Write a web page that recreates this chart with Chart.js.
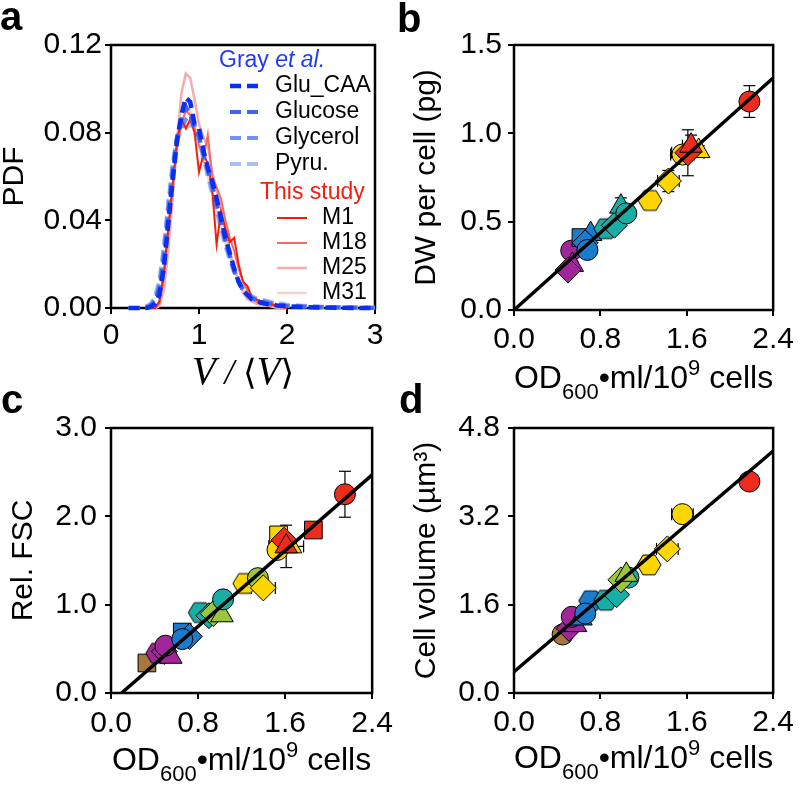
<!DOCTYPE html>
<html><head><meta charset="utf-8">
<script src="https://cdn.jsdelivr.net/npm/chart.js@4.4.1/dist/chart.umd.min.js"></script>
<style>
html,body{margin:0;padding:0;background:#fff;}
body{width:800px;height:785px;position:relative;overflow:hidden;}
canvas{position:absolute;}
.lbl{position:absolute;font-family:"Liberation Sans",Arial,sans-serif;font-weight:bold;font-size:40px;line-height:40px;color:#000;}
</style></head>
<body>
<canvas id="cA" width="400" height="395" style="left:0;top:0"></canvas>
<canvas id="cC" width="400" height="390" style="left:0;top:395px"></canvas>
<canvas id="cD" width="400" height="390" style="left:400px;top:395px"></canvas>
<canvas id="cB" width="400" height="410" style="left:400px;top:0"></canvas>
<div class="lbl" style="left:0;top:-4px">a</div>
<div class="lbl" style="left:397px;top:-2px">b</div>
<div class="lbl" style="left:1px;top:379px">c</div>
<div class="lbl" style="left:399px;top:379px">d</div>
<script>
// ================= DATA =================
// Panel a: PDF of V/<V>
const vGrid = [0.20,0.25,0.30,0.35,0.40,0.45,0.50,0.55,0.60,0.65,0.70,0.75,0.80,0.85,0.90,0.95,1.00,1.05,1.10,1.15,1.20,1.25,1.30,1.35,1.40,1.45,1.50,1.55,1.60,1.65,1.70,1.75,1.80,1.85,1.90,1.95,2.00,2.20,2.40,2.60,2.80,3.00];
const gluCAA   = [0,0,0,0,0,0.0005,0.002,0.006,0.018,0.038,0.058,0.076,0.088,0.096,0.094,0.084,0.082,0.072,0.064,0.058,0.050,0.041,0.032,0.025,0.018,0.012,0.008,0.006,0.004,0.0035,0.0025,0.002,0.0015,0.0015,0.001,0.001,0.0008,0.0004,0.0002,0.0001,0,0];
const glucose  = [0,0,0,0,0,0.001,0.003,0.009,0.022,0.042,0.062,0.078,0.086,0.092,0.088,0.082,0.078,0.070,0.063,0.056,0.048,0.040,0.031,0.024,0.017,0.012,0.008,0.006,0.0045,0.0035,0.003,0.0025,0.002,0.0015,0.0012,0.001,0.0008,0.0005,0.0003,0.0002,0.0001,0];
const glycerol = [0,0,0,0,0.0005,0.0015,0.004,0.011,0.026,0.046,0.064,0.078,0.082,0.086,0.088,0.084,0.078,0.070,0.062,0.054,0.046,0.038,0.030,0.023,0.017,0.012,0.009,0.007,0.005,0.004,0.0035,0.003,0.0025,0.002,0.0015,0.0015,0.001,0.0008,0.0005,0.0003,0.0002,0.0001];
const pyru     = [0,0,0,0,0.0008,0.002,0.005,0.013,0.028,0.048,0.066,0.078,0.080,0.082,0.084,0.080,0.076,0.068,0.060,0.052,0.044,0.036,0.028,0.022,0.016,0.012,0.009,0.007,0.0055,0.0045,0.004,0.0035,0.003,0.0025,0.002,0.002,0.0015,0.001,0.0006,0.0004,0.0002,0.0001];
const m1  = [null,null,null,null,0,0,0,0.003,0.016,0.036,0.056,0.076,0.086,0.082,0.086,0.080,0.062,0.070,0.066,0.054,0.029,0.044,0.036,0.030,0.032,0.020,0.012,0.010,0.005,0.004,0.003,0.002,0.002,0.0015,0.001,0.0005,0,null,null,null,null,null];
const m18 = [null,null,null,null,0,0,0,0.002,0.014,0.034,0.055,0.074,0.084,0.090,0.088,0.082,0.074,0.068,0.079,0.060,0.055,0.050,0.040,0.032,0.026,0.018,0.012,0.008,0.005,0.003,0.002,0.0015,0.001,0.001,0.0005,0,0,null,null,null,null,null];
const m25 = [null,null,null,null,0,0,0,0.001,0.008,0.026,0.050,0.076,0.098,0.107,0.105,0.095,0.084,0.078,0.074,0.062,0.054,0.046,0.036,0.026,0.018,0.012,0.007,0.004,0.003,0.002,0.0015,0.001,0.001,0.0005,0,0,0,null,null,null,null,null];
const m31 = [null,null,null,null,0,0,0,0.001,0.010,0.030,0.052,0.072,0.084,0.090,0.090,0.084,0.076,0.068,0.060,0.052,0.045,0.038,0.030,0.024,0.018,0.013,0.009,0.006,0.004,0.003,0.002,0.0015,0.001,0.0005,0.0003,0,0,null,null,null,null,null];
const aXTicks = [0,1,2,3];
const aYTicks = [0,0.04,0.08,0.12];

// Panel b: DW per cell vs OD600*ml/1e9 cells
const bX    = [0.53,0.54,0.50,0.62,0.71,0.66,0.68,0.85,0.93,0.99,1.04,1.26,1.43,1.56,1.71,1.61,1.64,2.18];
const bY    = [0.336,0.255,0.226,0.41,0.43,0.38,0.34,0.46,0.48,0.585,0.547,0.62,0.73,0.88,0.90,0.89,0.93,1.18];
const bXErr = [0.02,0.02,0.02,0.02,0.02,0.02,0.02,0.03,0.03,0.03,0.02,0.02,0.10,0.11,0.03,0.15,0.08,0.04];
const bYErr = [0.02,0.02,0.02,0.02,0.02,0.02,0.02,0.03,0.03,0.05,0.02,0.02,0.06,0.04,0.03,0.13,0.06,0.09];
const bGroup = ['purple','purple','purple','blue','blue','blue','blue','teal','teal','teal','teal','yellow','yellow','yellow','yellow','red','red','red'];
const bShape = ['circle','triangle','rectRot','rect','triangle','rectRot','circle','hex','rectRot','triangle','circle','hex','rectRot','circle','triangle','rectRot','triangle','circle'];
const bFitX = [0,2.4], bFitY = [0,1.313];
const bXTicks = [0,0.8,1.6,2.4], bYTicks = [0,0.5,1.0,1.5];

// Panel c: Rel. FSC
const cX    = [0.33,0.43,0.49,0.55,0.50,0.655,0.72,0.655,0.82,0.90,0.94,1.02,1.03,1.23,1.35,1.40,1.54,1.53,1.65,1.59,1.61,1.86,2.15];
const cY    = [0.34,0.45,0.47,0.41,0.535,0.69,0.64,0.61,0.91,0.875,0.90,0.88,1.06,1.24,1.30,1.19,1.79,1.62,1.66,1.73,1.66,1.845,2.25];
const cXErr = [0.02,0.02,0.02,0.02,0.02,0.02,0.03,0.02,0.03,0.03,0.03,0.03,0.03,0.03,0.03,0.11,0.05,0.06,0.05,0.05,0.16,0.03,0.05];
const cYErr = [0.03,0.03,0.03,0.03,0.03,0.03,0.03,0.03,0.03,0.03,0.03,0.03,0.03,0.03,0.03,0.04,0.06,0.06,0.05,0.05,0.24,0.03,0.26];
const cGroup = ['brown','purple','purple','purple','purple','blue','blue','blue','teal','teal','green','green','teal','yellow','green','yellow','yellow','yellow','yellow','red','red','red','red'];
const cShape = ['rect','hex','rectRot','triangle','circle','rect','rectRot','circle','hex','rectRot','rectRot','triangle','circle','hex','circle','rectRot','rect','circle','triangle','rectRot','triangle','rect','circle'];
const cFitX = [0.097,2.4], cFitY = [0,2.47];
const cXTicks = [0,0.8,1.6,2.4], cYTicks = [0,1.0,2.0,3.0];

// Panel d: Cell volume
const dX    = [0.45,0.51,0.57,0.535,0.62,0.71,0.66,0.85,0.95,1.06,0.99,1.04,1.25,1.42,1.56,2.18];
const dY    = [1.06,1.17,1.23,1.38,1.35,1.67,1.44,1.68,1.78,2.09,2.05,2.14,2.32,2.61,3.24,3.83];
const dXErr = [0.02,0.02,0.02,0.02,0.02,0.03,0.02,0.03,0.03,0.04,0.03,0.05,0.03,0.10,0.10,0.08];
const dYErr = [0.03,0.03,0.03,0.03,0.03,0.05,0.03,0.05,0.05,0.05,0.05,0.10,0.05,0.05,0.05,0.06];
const dGroup = ['brown','purple','purple','purple','blue','blue','blue','teal','teal','teal','green','green','yellow','yellow','yellow','red'];
const dShape = ['circle','rectRot','triangle','circle','triangle','hex','circle','hex','rectRot','circle','rectRot','triangle','hex','rectRot','circle','circle'];
const dFitX = [0,2.4], dFitY = [0.386,4.383];
const dXTicks = [0,0.8,1.6,2.4], dYTicks = [0,1.6,3.2,4.8];

// ================= STYLE =================
const F = "'Liberation Sans', Arial, Helvetica, sans-serif";
Chart.defaults.font.family = F;
Chart.defaults.color = '#000';
const palette = {purple:'#a0269a', blue:'#1c7ccc', teal:'#18aea6', green:'#9bc53d', yellow:'#ffd500', red:'#ee2b1c', brown:'#a6773e'};
const radiusOf = {circle:10.5, triangle:13, rect:12.5, rectRot:13, hex:12};
const hexCache = {};
function hexImg(color){
  if(hexCache[color]) return hexCache[color];
  const s=28, c=document.createElement('canvas'); c.width=s; c.height=s;
  const g=c.getContext('2d'); const r=12;
  g.beginPath();
  for(let k=0;k<6;k++){const a=Math.PI/3*k; const px=s/2+r*Math.cos(a), py=s/2+r*Math.sin(a)*0.95; k?g.lineTo(px,py):g.moveTo(px,py);}
  g.closePath(); g.fillStyle=color; g.fill(); g.lineWidth=1; g.strokeStyle='#000'; g.stroke();
  hexCache[color]=c; return c;
}

const framePlugin = {id:'frame', beforeDatasetsDraw(ch){const a=ch.chartArea,c=ch.ctx;c.save();c.strokeStyle='#000';c.lineWidth=2.5;c.strokeRect(a.left,a.top,a.right-a.left,a.bottom-a.top);c.restore();}};

function errPlugin(xs,ys,xe,ye){
  return {id:'err', beforeDatasetsDraw(ch){
    const c=ch.ctx, X=ch.scales.x, Y=ch.scales.y, cap=6;
    c.save(); c.strokeStyle='#000'; c.lineWidth=1.2;
    const seg=(x1,y1,x2,y2)=>{c.beginPath();c.moveTo(x1,y1);c.lineTo(x2,y2);c.stroke();};
    xs.forEach((xv,i)=>{
      const px=X.getPixelForValue(xv), py=Y.getPixelForValue(ys[i]);
      if(ye[i]>0){const y1=Y.getPixelForValue(ys[i]-ye[i]), y2=Y.getPixelForValue(ys[i]+ye[i]); seg(px,y1,px,y2); seg(px-cap,y1,px+cap,y1); seg(px-cap,y2,px+cap,y2);}
      if(xe[i]>0){const x1=X.getPixelForValue(xv-xe[i]), x2=X.getPixelForValue(xv+xe[i]); seg(x1,py,x2,py); seg(x1,py-cap,x1,py+cap); seg(x2,py-cap,x2,py+cap);}
    });
    c.restore();
  }};
}

function xTitle(parts, baseY){
  return {id:'xt', afterDraw(ch){
    const c=ch.ctx, a=ch.chartArea; c.save(); c.fillStyle='#000'; c.textBaseline='alphabetic'; c.textAlign='left';
    let tw=0; const ws=parts.map(p=>{c.font=p.f; const w=c.measureText(p.t).width; tw+=w; return w;});
    let x=(a.left+a.right)/2 - tw/2;
    parts.forEach((p,i)=>{c.font=p.f; c.fillText(p.t,x,baseY+(p.dy||0)); x+=ws[i];});
    c.restore();
  }};
}
function odParts(){
  return [{t:'OD',f:`32px ${F}`},{t:'600',f:`22px ${F}`,dy:11},{t:'\u2022ml/10',f:`32px ${F}`},{t:'9',f:`22px ${F}`,dy:-13},{t:' cells',f:`32px ${F}`}];
}

function axis(o){
  return {
    type:'linear', min:o.min, max:o.max,
    border:{display:false},
    grid:{display:true, drawOnChartArea:false, drawTicks:true, tickLength:6, color:'#000', lineWidth:2},
    ticks:{font:{size:30}, color:'#000', padding:o.pad, callback:o.fmt, autoSkip:false, maxRotation:0},
    afterBuildTicks:s=>{s.ticks=o.ticks.map(v=>({value:v}));},
    afterFit:o.fit,
    title:o.title || {display:false}
  };
}
function yTitle(text){ return {display:true, text, color:'#000', font:{size:30, lineHeight:1}, padding:0}; }

const baseOpts = {responsive:false, animation:false, events:[], plugins:{legend:{display:false}, tooltip:{enabled:false}}};

// ---------- Panel a ----------
const seriesA = [
  {label:'Glu_CAA', y:gluCAA,  color:'#0a2ff2', w:4.5, dash:[11,6], order:0},
  {label:'Glucose', y:glucose, color:'#3f66ea', w:4,   dash:[11,6], order:1},
  {label:'Glycerol',y:glycerol,color:'#7292f0', w:4,   dash:[11,6], order:3},
  {label:'Pyru.',   y:pyru,    color:'#a9bcf6', w:4,   dash:[11,6], order:4},
  {label:'M1',  y:m1,  color:'#f41e0c', w:2,   dash:[], order:2},
  {label:'M18', y:m18, color:'#f36a62', w:2,   dash:[], order:5},
  {label:'M25', y:m25, color:'#f6acaa', w:2.5, dash:[], order:6},
  {label:'M31', y:m31, color:'#f9cfcd', w:2.5, dash:[], order:7}
];
const legendA = {id:'legA', afterDatasetsDraw(ch){
  const c=ch.ctx; c.save(); c.textBaseline='middle'; c.textAlign='left';
  c.font=`23px ${F}`; c.fillStyle='#1f3cf2'; c.fillText('Gray ',219,61);
  const w=c.measureText('Gray ').width; c.font=`italic 23px ${F}`; c.fillText('et al.',219+w,61);
  ch.data.datasets.forEach((d,i)=>{
    const g=i<4?0:1, k=g?i-4:i;
    const y=g?218+25*k:86+26*k, x0=g?277:230, x1=g?307:262, tx=g?322:275;
    c.beginPath(); c.setLineDash(d.borderDash||[]); c.strokeStyle=d.borderColor; c.lineWidth=d.borderWidth;
    c.moveTo(x0,y); c.lineTo(x1,y); c.stroke(); c.setLineDash([]);
    c.fillStyle='#000'; c.font=`23px ${F}`; c.fillText(d.label,tx,y);
  });
  c.font=`23px ${F}`; c.fillStyle='#f2200f'; c.fillText('This study',260,193);
  c.restore();
}};
new Chart(document.getElementById('cA'), {
  type:'scatter',
  data:{datasets: seriesA.map(s=>({label:s.label, data:vGrid.map((v,i)=>({x:v,y:s.y[i]})), showLine:true, borderColor:s.color, borderWidth:s.w, borderDash:s.dash, pointRadius:0, fill:false, clip:false, spanGaps:false, order:s.order}))},
  options:Object.assign({}, baseOpts, {
    layout:{padding:{left:0, top:45, right:25, bottom:0}},
    scales:{
      x: axis({min:0,max:3,ticks:aXTicks,fmt:v=>String(v),pad:4,fit:s=>{s.height=87;}}),
      y: axis({min:0,max:0.12,ticks:aYTicks,fmt:v=>v.toFixed(2),pad:3,fit:s=>{s.width=111;},title:yTitle('PDF')})
    }
  }),
  plugins:[framePlugin, legendA, xTitle([
    {t:'V',f:`italic 39px 'Liberation Serif','DejaVu Serif',serif`},
    {t:' / ',f:`italic 35px 'Liberation Serif','DejaVu Serif',serif`},
    {t:'\u27E8',f:`35px 'DejaVu Serif','Liberation Serif',serif`},
    {t:'V',f:`italic 39px 'Liberation Serif','DejaVu Serif',serif`},
    {t:'\u27E9',f:`35px 'DejaVu Serif','Liberation Serif',serif`}
  ], 384)]
});

// ---------- Panels b, c, d ----------
function scatterPanel(id, xs, ys, xe, ye, grp, shp, fitX, fitY, xTicks, yTicks, yMax, yLabel, pad, yW, xH, yPad, xPad, titleY){
  new Chart(document.getElementById(id), {
    type:'scatter',
    data:{datasets:[
      {label:'fit', data:fitX.map((v,i)=>({x:v,y:fitY[i]})), showLine:true, borderColor:'#000', borderWidth:3.5, pointRadius:0, order:0},
      {label:'data', data:xs.map((v,i)=>({x:v,y:ys[i]})),
        pointStyle:shp.map((s,i)=>s==='hex'?hexImg(palette[grp[i]]):s),
        pointRadius:shp.map(s=>radiusOf[s]),
        pointBackgroundColor:grp.map(g=>palette[g]),
        backgroundColor:grp.map(g=>palette[g]),
        pointBorderColor:'#000', borderColor:'#000', pointBorderWidth:1, order:1}
    ]},
    options:Object.assign({}, baseOpts, {
      layout:{padding:pad},
      scales:{
        x: axis({min:0,max:2.4,ticks:xTicks,fmt:v=>v.toFixed(1),pad:xPad,fit:s=>{s.height=xH;}}),
        y: axis({min:0,max:yMax,ticks:yTicks,fmt:v=>v.toFixed(1),pad:yPad,fit:s=>{s.width=yW;},title:yTitle(yLabel)})
      }
    }),
    plugins:[framePlugin, errPlugin(xs,ys,xe,ye), xTitle(odParts(), titleY)]
  });
}
scatterPanel('cB', bX,bY,bXErr,bYErr,bGroup,bShape,bFitX,bFitY,bXTicks,bYTicks,1.5,'DW per cell (pg)', {left:12,top:45,right:23,bottom:0}, 102, 100, 6, 6, 388);
scatterPanel('cC', cX,cY,cXErr,cYErr,cGroup,cShape,cFitX,cFitY,cXTicks,cYTicks,3.0,'Rel. FSC', {left:9,top:33,right:24,bottom:0}, 102, 92, 8, 7, 375);
scatterPanel('cD', dX,dY,dXErr,dYErr,dGroup,dShape,dFitX,dFitY,dXTicks,dYTicks,4.8,'Cell volume (\u00B5m\u00B3)', {left:12,top:33,right:23,bottom:0}, 102, 92, 8, 6, 373);
</script>
</body></html>
